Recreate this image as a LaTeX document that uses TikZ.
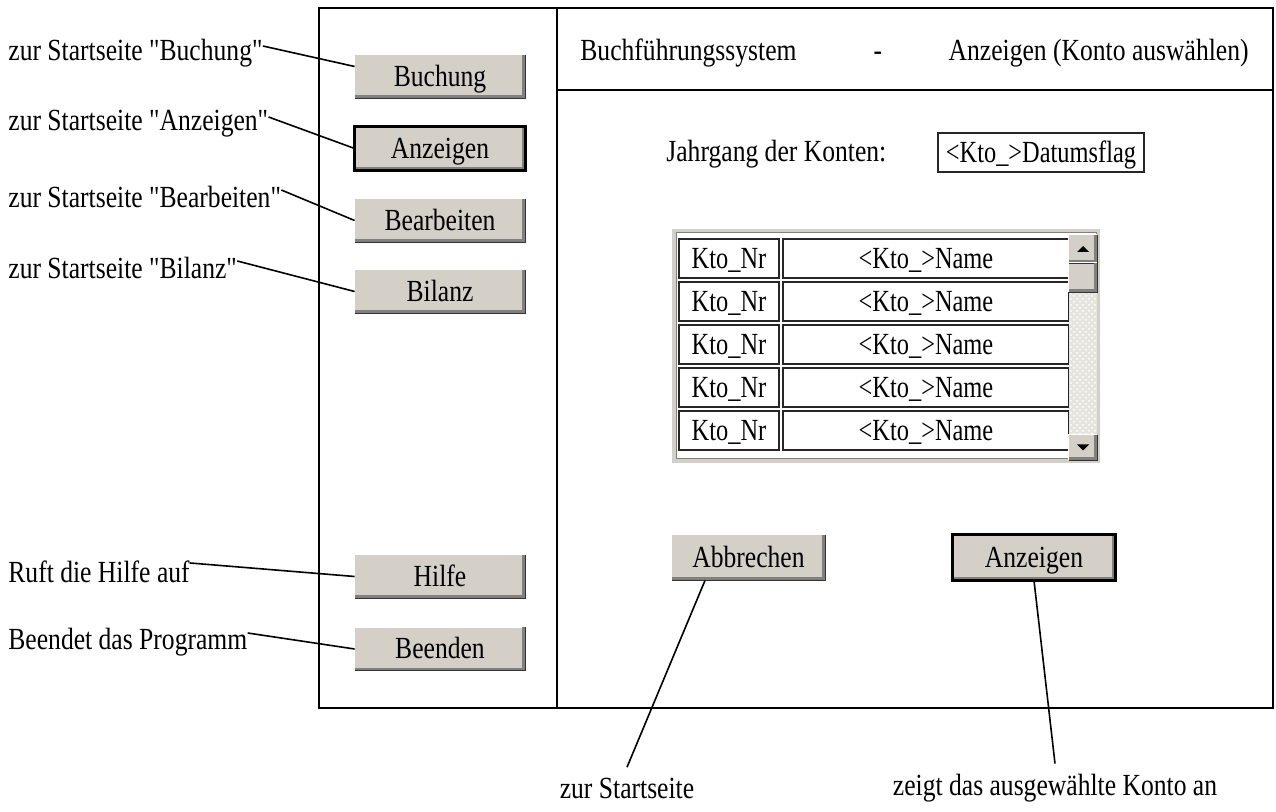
\documentclass[tikz,border=0pt]{standalone}
\usepackage{fontspec}
\setmainfont{Liberation Serif}[Ligatures=TeXOff]
\usetikzlibrary{patterns}
\definecolor{btnface}{HTML}{D4D0C8}
\definecolor{btnshade}{HTML}{808080}
\definecolor{spur}{HTML}{E6E4DE}

\begin{document}
\begin{tikzpicture}[x=0.5pt,y=-0.5pt,
    txt/.style={inner sep=0pt,yscale=1.2,transform shape,font=\fontsize{12.8}{14}\selectfont},
    knopf/.style={txt,fill=btnface,minimum width=85pt,minimum height=17.9pt,text height=0.8em,text depth=0pt},
    sknopf/.style={fill=btnface,inner sep=0pt,minimum width=14pt,minimum height=14pt},
    aktiv/.style={draw=black,line width=1.2pt},
    feld/.style={inner sep=0pt,yscale=1.26,transform shape,font=\fontsize{12.2}{14}\selectfont,
        draw=black!85,line width=0.6pt,fill=white,minimum height=15.5pt,text height=0.8em,text depth=0pt},
    pfeil/.style={line width=0.8pt},
    rahmen/.style={line width=1pt}]
        \useasboundingbox (0,0) rectangle (1276,812);
        % Fensterrahmen
        \draw [rahmen] (319,8) rectangle (1273,708);
        \draw [rahmen] (557,8) -- (557,708);
        \draw [rahmen] (557,90) -- (1273,90);
        \node [txt,anchor=base west] (tSys) at (580,61) {Buchführungssystem};
        \node [txt,anchor=base] (tStrich) at (878,61) {-};
        \node [txt,anchor=base east] (tTitel) at (1249,61) {Anzeigen (Konto auswählen)};
        % Menue links
        \node [knopf] (bBuchung) at (440,76.5) {Buchung};
        \node [knopf] (bAnzeigen) at (440,148.5) {Anzeigen};
        \node [knopf] (bBearbeiten) at (440,220.5) {Bearbeiten};
        \node [knopf] (bBilanz) at (440,291.5) {Bilanz};
        \node [knopf] (bHilfe) at (440,576.5) {Hilfe};
        \node [knopf] (bBeenden) at (440,649) {Beenden};
        % Kontoauswahl
        \node [txt,anchor=west] (tJahr) at (666,154) {Jahrgang der Konten:};
        \node [feld,minimum width=103pt] (fDatum) at (1041,152.5) {<Kto\_>Datumsflag};
        \fill [white] (673,230) rectangle (1099,462);
        \draw [btnface,line width=2pt] (674,231) rectangle (1098,461);
        \draw [btnshade,line width=0.5pt] (676,233) rectangle (1096,459);
        \foreach \i [evaluate=\i as \yy using 258.5+43*\i] in {0,...,4} {
            \node [feld,minimum width=50pt] (nr\i) at (729,\yy) {Kto\_Nr};
            \node [feld,minimum width=143pt] (nm\i) at (926,\yy) {<Kto\_>Name};
        }
        \fill [spur] (1069,235) rectangle (1097,460);
        \fill [pattern=crosshatch dots,pattern color=white] (1069,292) rectangle (1097,435);
        \node [sknopf] (sHoch) at (1083,249) {};
        \node [sknopf,minimum height=14.5pt] (sGriff) at (1083,277.5) {};
        \node [sknopf,minimum height=12.5pt] (sRunter) at (1083,447.5) {};
        \node [knopf,minimum width=76.5pt,minimum height=18.75pt] (bAbbrechen) at (748.5,557.5) {Abbrechen};
        \node [knopf,minimum width=81pt,minimum height=18.75pt] (bZeigen) at (1034,557.5) {Anzeigen};
        % 3D-Kanten der Knoepfe
        \foreach \b in {bBuchung,bAnzeigen,bBearbeiten,bBilanz,bHilfe,bBeenden,bAbbrechen,bZeigen,sHoch,sGriff,sRunter} {
            \draw [white,line width=0.6pt] (\b.south west) -- (\b.north west) -- (\b.north east);
            \draw [btnshade,line width=1.6pt] ([xshift=-0.8pt]\b.north east) -- ([xshift=-0.8pt,yshift=0.8pt]\b.south east) -- ([yshift=0.8pt]\b.south west);
            \draw [black!80,line width=0.5pt] (\b.north east) -- (\b.south east) -- (\b.south west);
        }
        \draw [aktiv] (bAnzeigen.south west) rectangle (bAnzeigen.north east);
        \draw [aktiv] (bZeigen.south west) rectangle (bZeigen.north east);
        \fill ([xshift=-3pt,yshift=-1.5pt]sHoch.center) -- ([xshift=3pt,yshift=-1.5pt]sHoch.center) -- ([yshift=1.5pt]sHoch.center) -- cycle;
        \fill ([xshift=-3pt,yshift=1.5pt]sRunter.center) -- ([xshift=3pt,yshift=1.5pt]sRunter.center) -- ([yshift=-1.5pt]sRunter.center) -- cycle;
        % Erklaerungen links
        \node [txt,anchor=west] (lBuchung) at (8,53) {zur Startseite "Buchung"};
        \node [txt,anchor=west] (lAnzeigen) at (8,124) {zur Startseite "Anzeigen"};
        \node [txt,anchor=west] (lBearbeiten) at (8,197) {zur Startseite "Bearbeiten"};
        \node [txt,anchor=west] (lBilanz) at (8,268) {zur Startseite "Bilanz"};
        \node [txt,anchor=west] (lHilfe) at (8,572) {Ruft die Hilfe auf};
        \node [txt,anchor=west] (lBeenden) at (8,642) {Beendet das Programm};
        \draw [pfeil] ([yshift=3.5pt]lBuchung.east) -- ([yshift=5pt]bBuchung.west);
        \draw [pfeil] ([yshift=3.5pt]lAnzeigen.east) -- (bAnzeigen.west);
        \draw [pfeil] ([yshift=3.5pt]lBearbeiten.east) -- (bBearbeiten.west);
        \draw [pfeil] ([yshift=3.5pt]lBilanz.east) -- (bBilanz.west);
        \draw [pfeil] ([yshift=4.5pt]lHilfe.east) -- (bHilfe.west);
        \draw [pfeil] ([yshift=4.5pt]lBeenden.east) -- (bBeenden.west);
        % Erklaerungen unten
        \node [txt] (lStart) at (627,788) {zur Startseite};
        \node [txt] (lZeigen) at (1055,788) {zeigt das ausgewählte Konto an};
        \draw [pfeil] ([xshift=-21.75pt]bAbbrechen.south) -- ([yshift=5pt]lStart.north);
        \draw [pfeil] (bZeigen.south) -- ([yshift=5pt]lZeigen.north);
\end{tikzpicture}
\end{document}
